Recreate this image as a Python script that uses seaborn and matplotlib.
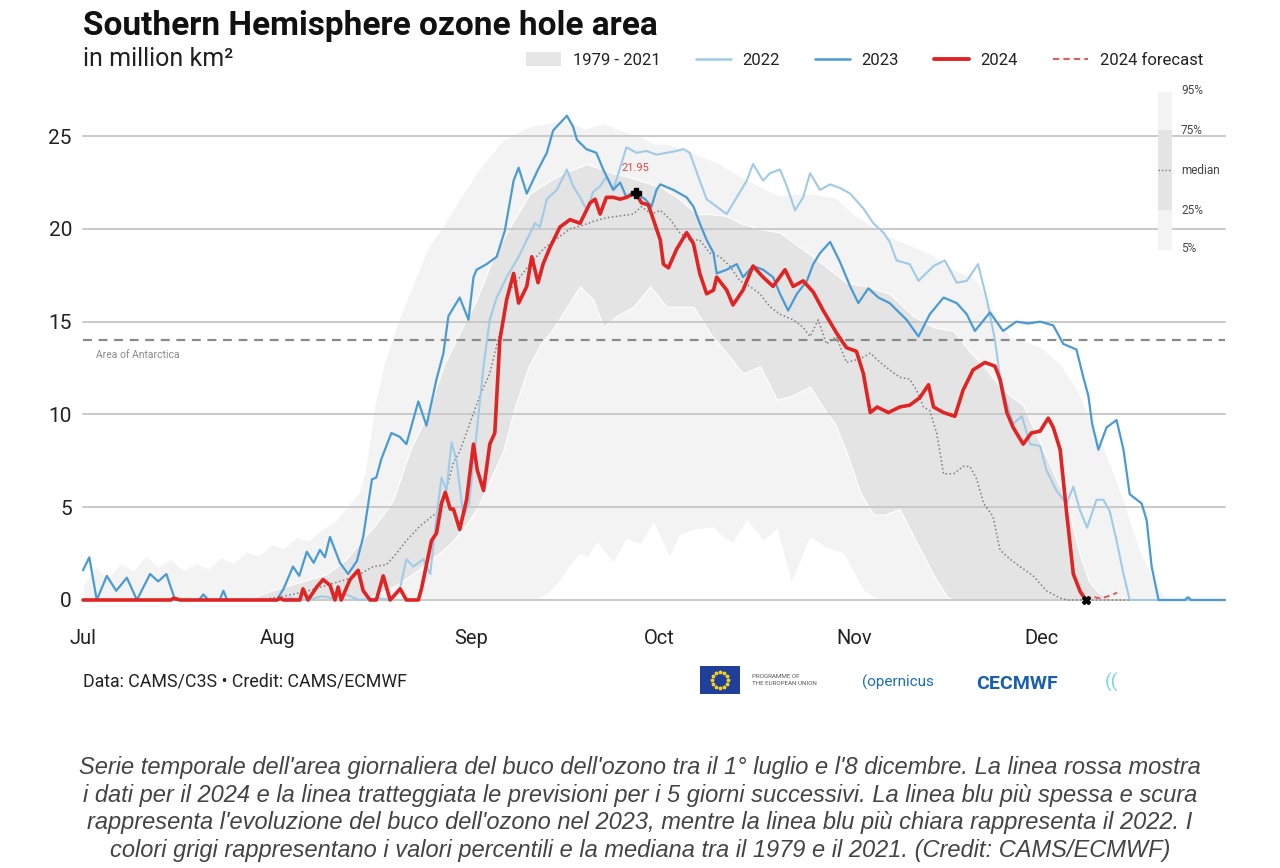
import numpy as np
import pandas as pd
import matplotlib
matplotlib.use("Agg")
import matplotlib.pyplot as plt
import matplotlib.dates as mdates
from matplotlib.patches import Patch, Rectangle
from matplotlib.lines import Line2D
import seaborn as sns

# ---------------- data (day offset from 1 July, value in million km2) ----------------
y2023_days = [0, 1, 2.2, 3.8, 5.3, 7, 8.6, 10.7, 12, 13.3, 14.7, 18.5, 19.2, 20, 21.8, 22.4, 23, 30.9, 32,
              33.5, 34.5, 35.7, 36.8, 37.8, 38.6, 39.4, 41.0, 42.3, 43.7, 44.7, 46.1, 46.8, 47.6, 49.2, 50.5,
              51.6, 53.5, 54.8, 56.4, 57.5, 58.3, 60.1, 61.5, 62.3, 62.8, 64.4, 66.0, 67.3, 68.7, 69.5, 70.8,
              72.6, 74.0, 75.0, 77.2, 78.2, 78.8, 80.3, 81.9, 83.0, 84.6, 85.7, 86.7, 87.8, 89.7, 90.7, 91.5,
              92.1, 94.2, 96.3, 97.4, 98.4, 99.5, 100.6, 101.1, 102.7, 104.3, 105.3, 106.9, 108.5, 110.1,
              111.2, 112.5, 113.9, 115.5, 116.5, 117.6, 119.2, 120.8, 122.4, 123.7, 125.3, 126.9, 128.7,
              131.4, 133.3, 135.1, 137.3, 139.4, 141.0, 142.3, 144.7, 146.8, 148.9, 150.8, 152.7, 154.8,
              156.4, 158.5, 159.6, 160.4, 161.0, 162.0, 163.3, 164.9, 166.0, 167.0, 168.9, 169.7, 170.5,
              171.6, 175.8, 176.3, 176.8, 182.2]
y2023_vals = [1.6, 2.3, 0.0, 1.3, 0.5, 1.2, 0.0, 1.4, 1.0, 1.4, 0.0, 0.0, 0.3, 0.0, 0.0, 0.5, 0.0, 0.0, 0.6,
              1.8, 1.3, 2.6, 2.0, 2.7, 2.3, 3.4, 2.0, 1.4, 2.1, 3.4, 6.5, 6.6, 7.6, 9.0, 8.8,
              8.4, 10.7, 9.4, 11.9, 13.3, 15.3, 16.3, 15.1, 17.4, 17.8, 18.1, 18.5, 19.9, 22.6, 23.3, 21.9,
              23.2, 24.1, 25.3, 26.1, 25.5, 24.8, 24.3, 24.1, 23.2, 22.1, 22.5, 21.7, 22.0, 21.6, 21.2, 22.1,
              22.4, 22.1, 21.7, 21.2, 20.3, 19.4, 18.7, 17.6, 17.8, 18.1, 17.4, 18.0, 17.8, 17.4,
              16.5, 15.6, 16.5, 17.2, 18.1, 18.7, 19.3, 18.2, 16.9, 16.0, 16.8, 16.3, 16.0,
              15.1, 14.2, 15.4, 16.3, 16.0, 15.4, 14.5, 15.5, 14.5, 15.0, 14.9, 15.0, 14.8,
              13.8, 13.5, 12.0, 11.0, 9.5, 8.1, 9.3, 9.7, 8.1, 5.7, 5.2, 4.3, 1.8,
              0.0, 0.0, 0.15, 0.0, 0.0]

y2022_days = [0, 30, 33, 36, 38, 40, 42, 44, 47, 49, 50.5, 51.6, 52.7, 54.3, 55.4, 56.4, 57.2, 58.0, 58.8,
              59.6, 60.7, 61.6, 62.8, 63.9, 64.9, 66.0, 67.6, 69.5, 70.8, 72.1, 72.9, 74.0, 75.6, 77.2, 78.2,
              79.3, 80.4, 81.4, 82.5, 83.5, 84.6, 85.7, 86.7, 88.3, 89.9, 91.5, 93.1, 94.7, 95.8, 96.8, 98.4,
              99.5, 101.1, 102.7, 104.3, 105.9, 106.9, 108.5, 109.6, 111.2, 112.3, 113.6, 114.9, 116.0, 117.6,
              119.2, 120.8, 122.4, 124.5, 126.1, 127.7, 128.7, 129.8, 131.9, 133.3, 135.7, 137.5, 139.4,
              141.0, 142.8, 144.2, 145.5, 146.3, 147.4, 148.4, 149.8, 151.1, 152.7, 153.7, 155.3, 156.9,
              158.0, 159.1, 160.2, 161.7, 162.8, 163.8, 164.9, 166.0, 167.0, 182.2]
y2022_vals = [0.0, 0.0, 0.1, 0.0, 0.2, 0.1, 0.3, 0.0, 0.1, 0.0, 0.5, 2.2, 1.8, 2.2, 1.4, 4.5, 6.6, 5.9, 8.5,
              7.5, 4.5, 5.2, 9.0, 12.6, 15.1, 16.3, 17.4, 18.5, 19.4, 20.3, 20.1, 21.6, 22.1, 23.2, 22.3,
              21.7, 21.0, 22.0, 22.3, 22.8, 22.1, 23.3, 24.4, 24.1, 24.2, 24.0, 24.1, 24.2, 24.3, 24.1, 22.6,
              21.6, 21.2, 20.8, 21.7, 22.6, 23.5, 22.6, 23.0, 23.2, 22.3, 21.0, 21.7, 23.0, 22.1,
              22.4, 22.2, 21.9, 21.1, 20.3, 19.8, 19.3, 18.3, 18.1, 17.2, 18.0, 18.3, 17.1,
              17.2, 18.1, 16.2, 14.0, 12.0, 10.6, 9.5, 9.9, 8.4, 8.3, 7.0, 5.9, 5.2,
              6.1, 4.8, 3.9, 5.4, 5.4, 4.8, 3.2, 1.4, 0.0, 0.0]

y2024_days = [0, 14, 14.5, 15.5, 31, 31.4, 32, 34.6, 35.1, 35.9, 37.3, 38.3, 39.4, 40.2, 40.7, 41.2, 42.6,
              43.9, 44.7, 45.8, 46.8, 47.9, 49.0, 50.6, 51.6, 53.5, 54.0, 54.8, 55.6, 56.4, 57.2, 57.8, 58.6,
              59.1, 60.1, 61.2, 62.3, 62.9, 63.9, 64.9, 65.7, 66.5, 67.6, 68.7, 69.5, 70.8, 71.6, 72.6, 73.4,
              74.5, 76.1, 77.7, 79.3, 80.9, 81.7, 82.5, 83.5, 84.6, 85.7, 86.7, 88.2, 89.1, 90.2, 91.0, 92.1,
              92.6, 93.4, 94.7, 96.3, 97.4, 98.4, 99.5, 100.6, 101.1, 102.7, 103.7, 105.3, 106.9, 108.5,
              110.1, 112.0, 113.3, 114.9, 116.5, 118.1, 120.2, 121.8, 123.4, 124.5, 125.6, 126.7, 128.5,
              130.3, 131.9, 133.5, 134.9, 135.7, 137.3, 139.1, 140.4, 142.0, 143.9, 145.5, 146.3, 147.4,
              148.4, 150.0, 151.3, 152.7, 154.0, 154.8, 155.9, 156.9, 158.0, 159.1, 160.0]
y2024_vals = [0.0, 0.0, 0.1, 0.0, 0.0, 0.1, 0.0, 0.0, 0.6, 0.0, 0.7, 1.1, 0.8, 0.0, 0.7, 0.0, 1.1,
              1.6, 0.5, 0.0, 0.0, 1.3, 0.0, 0.6, 0.0, 0.0, 0.6, 1.9, 3.2, 3.6, 5.2, 5.8, 4.9,
              4.9, 3.8, 5.4, 8.4, 7.0, 5.9, 8.4, 9.0, 14.0, 16.2, 17.6, 16.0, 16.9, 18.5, 17.1, 18.1,
              19.0, 20.1, 20.5, 20.3, 21.4, 21.6, 20.8, 21.7, 21.7, 21.6, 21.7, 21.95, 21.4, 21.3, 20.5, 19.4,
              18.1, 17.9, 18.9, 19.8, 19.2, 17.6, 16.5, 16.7, 17.4, 16.7, 15.9, 16.7, 18.0, 17.4,
              16.9, 17.8, 16.9, 17.2, 16.6, 15.6, 14.4, 13.6, 13.4, 12.2, 10.1, 10.4, 10.1,
              10.4, 10.5, 10.9, 11.6, 10.4, 10.1, 9.9, 11.3, 12.4, 12.8, 12.6, 11.9, 10.1,
              9.3, 8.4, 9.0, 9.1, 9.8, 9.3, 8.1, 4.8, 1.4, 0.45, 0.0]

forecast_days = [160, 161, 162, 163, 164, 165]
forecast_vals = [0.0, 0.2, 0.1, 0.15, 0.25, 0.4]

median_days = [0, 28, 32, 36, 39.9, 42, 44.2, 46.3, 48.4, 49.5, 51.6, 53.8, 56.4, 58, 59.1, 60.1, 61.7, 63.3,
               64.9, 66.5, 68.1, 69.7, 71.3, 73.4, 76.1, 77.7, 79.8, 81.4, 83.5, 85.7, 87.8, 89.1, 90.7,
               92.1, 93.7, 95.2, 96.8, 98.4, 100.0, 101.6, 103.2, 104.8, 106.4, 108.0, 109.6, 111.2, 113.3,
               114.9, 116.0, 117.3, 118.6, 120.2, 121.8, 124.0, 125.6, 127.2, 128.7, 130.3, 131.9, 133.0,
               134.1, 135.1, 136.2, 137.3, 138.9, 140.4, 141.5, 142.6, 143.7, 145.2, 146.3, 147.9, 149.5,
               151.6, 153.7, 155.9, 157, 182.2]
median_vals = [0.0, 0.0, 0.2, 0.5, 0.9, 1.1, 1.4, 1.8, 1.9, 2.3, 3.2, 4.0, 4.7, 6.0, 7.4, 8.0, 9.5, 11.0,
               12.2, 14.4, 16.7, 17.4, 18.1, 18.9, 19.6, 20.0, 20.2, 20.4, 20.6, 20.7, 20.8, 21.2, 20.8,
               21.0, 20.5, 19.8, 19.4, 19.4, 18.7, 18.5, 18.0, 17.2, 16.9, 16.5, 15.8, 15.4, 15.1,
               14.7, 14.2, 15.1, 13.8, 14.2, 12.8, 13.0, 13.3, 12.8, 12.4, 12.0, 11.9, 11.3,
               10.4, 10.2, 9.0, 6.8, 6.8, 7.2, 7.2, 6.5, 5.2, 4.5, 2.7, 2.2, 1.8,
               1.3, 0.5, 0.1, 0.0, 0.0]

p95_days = [0, 2, 4, 6, 8, 10, 12, 14, 16, 18, 20, 22, 24, 26, 28, 30, 32, 34, 36, 38, 40, 42, 44, 45,
            46.5, 48, 50, 52, 55, 57.5, 60, 62.3, 65, 67, 71, 74, 77, 80, 83, 86, 89, 91, 93, 95, 98,
            101, 104, 108, 111, 114, 116.5, 120, 123, 127, 130, 135, 139, 142, 144, 146, 148, 150, 153, 156,
            159, 161, 163, 166, 168.6, 171.4, 173, 175, 176.3, 177.5, 182.2]
p95_vals = [0.8, 1.8, 1.2, 2.0, 1.6, 2.4, 1.8, 2.2, 1.6, 2.0, 1.7, 2.3, 2.0, 2.6, 2.4, 3.0, 2.8, 3.4, 3.2,
            3.8, 4.2, 5.0, 5.8, 7.0, 10.5, 12.8, 14.8, 16.5, 19.0, 20.2, 21.6, 22.8, 24.0, 24.8, 25.5,
            25.7, 25.9, 25.4, 25.7, 25.3, 25.0, 24.6, 24.6, 24.4, 24.0, 23.6, 23.0, 22.3, 21.8, 21.9, 21.9,
            21.7, 20.8, 19.9, 19.4, 18.7, 17.8, 17.4, 16.5, 15.0, 14.2, 14.0, 13.6, 12.7, 11.1, 9.5, 8.1,
            5.4, 2.7, 0.7, 0.0, 0.1, 0.3, 0.0, 0.0]

p75_days = [0, 26, 30, 34, 38.9, 42, 44.2, 47, 49.5, 52.2, 54.8, 57.5, 60.1, 62.8, 65.5, 68.1, 71.3, 74,
            76.6, 80.4, 84.6, 87, 89.9, 92.5, 95.2, 97.9, 100, 102.7, 105, 108, 111.2, 114.4, 116.5, 119.2,
            121.8, 125, 128.7, 132.5, 135.7, 138.9, 141.2, 144.2, 146.3, 148, 150, 152, 154, 156, 157.5,
            159, 160.5, 162, 164, 166, 182.2]
p75_vals = [0.0, 0.0, 0.5, 0.9, 1.4, 2.2, 3.1, 4.2, 5.4, 8.1, 9.9, 12.6, 14.4, 16.2, 18.5, 20.1, 21.9, 22.5,
            23.0, 23.5, 23.0, 22.8, 22.5, 22.2, 21.6, 20.8, 20.8, 20.7, 20.3, 20.0, 19.8, 19.0, 18.5, 17.8,
            17.1, 16.9, 16.5, 15.3, 14.7, 14.5, 13.5, 12.4, 11.5, 11.0, 10.5, 9.0, 7.5, 6.0, 4.5,
            2.5, 1.0, 0.4, 0.1, 0.0, 0.0]

p25_days = [0, 44, 47, 50, 53, 56, 58.5, 61, 63, 65, 67, 69, 71, 73, 75, 77.2, 79.3, 81.4, 83, 85.1, 87.8,
            90.5, 93.1, 97.4, 100, 102.7, 105.3, 108, 110.7, 113, 116, 118.6, 120, 122, 124, 126.1, 128,
            130.3, 133, 135.6, 137.8, 139, 182.2]
p25_vals = [0.0, 0.0, 0.3, 0.8, 1.5, 2.3, 3.0, 4.0, 5.0, 6.5, 8.0, 10.5, 12.5, 13.8, 14.6, 15.8, 16.9, 16.2,
            14.7, 15.3, 15.8, 16.9, 15.8, 15.8, 14.4, 13.3, 12.2, 12.6, 10.8, 11.0, 11.5, 10.1, 9.5, 7.8,
            5.8, 4.6, 4.6, 4.9, 3.1, 1.4, 0.2, 0.0, 0.0]

p5_days = [0, 72, 74, 76, 77.5, 79.3, 80.5, 82, 84.6, 86.7, 89, 91, 93.6, 95.2, 97.4, 100.6, 102, 103.7,
           105.9, 108.5, 110.7, 113, 116, 118.1, 121.3, 124.5, 127, 182.2]
p5_vals = [0.0, 0.0, 0.3, 1.0, 1.8, 2.5, 2.3, 3.1, 2.0, 3.3, 3.0, 4.2, 2.3, 3.5, 3.8, 3.9, 3.4, 3.1,
           4.3, 3.2, 3.8, 0.9, 3.4, 2.9, 2.5, 0.5, 0.0, 0.0]

antarctica_area = 14.0
peak_day, peak_val = 88.2, 21.95
ytick_vals = [0, 5, 10, 15, 20, 25]

# ---------------- helpers ----------------
base = pd.Timestamp("2024-07-01")


def to_dates(days):
    return base + pd.to_timedelta(np.asarray(days, dtype=float), unit="D")


def frame(days, vals):
    return pd.DataFrame({"date": to_dates(days), "value": vals})


# common grid for the percentile bands
grid_days = np.union1d(np.union1d(np.union1d(p95_days, p75_days), np.union1d(p25_days, p5_days)), [182.2])
g95 = np.interp(grid_days, p95_days, p95_vals)
g75 = np.minimum(np.interp(grid_days, p75_days, p75_vals), g95)
g25 = np.minimum(np.interp(grid_days, p25_days, p25_vals), g75)
g5 = np.minimum(np.interp(grid_days, p5_days, p5_vals), g25)
gdates = to_dates(grid_days)

# ---------------- figure ----------------
sns.set_theme(style="white")
plt.rcParams["font.family"] = ["Roboto", "DejaVu Sans"]

W, H = 1280, 868
fig = plt.figure(figsize=(W / 100, H / 100), dpi=100)
ax_left, ax_right = 83, 1225
ax_bottom_px, ax_top_px = 603.7, 99.0
ax = fig.add_axes([ax_left / W, 1 - ax_bottom_px / H, (ax_right - ax_left) / W, (ax_bottom_px - ax_top_px) / H])

light_band = "#f3f3f3"
dark_band = "#e4e4e4"
ax.fill_between(gdates, g5, g95, facecolor=light_band, edgecolor="white", linewidth=0.8, zorder=1)
ax.fill_between(gdates, g25, g75, facecolor=dark_band, edgecolor="white", linewidth=0.8, zorder=1.1)

# gridlines
for v in ytick_vals:
    ax.axhline(v, color="#c9c9c9", lw=1.4, zorder=1.5)

# Antarctica area
ax.axhline(antarctica_area, color="#8a8a8a", lw=1.6, ls=(0, (4, 3)), zorder=1.6)
ax.text(to_dates([2])[0], antarctica_area - 0.55, "Area of Antarctica", fontsize=7.5, color="#8a8a8a",
        va="top", ha="left", zorder=3)

# lines via seaborn
sns.lineplot(data=frame(median_days, median_vals), x="date", y="value", ax=ax, color="#7d7d7d",
             lw=1.1, linestyle=(0, (1, 1.6)), sort=False, estimator=None, zorder=2)
sns.lineplot(data=frame(y2022_days, y2022_vals), x="date", y="value", ax=ax, color="#9fcbe7",
             lw=1.5, sort=False, estimator=None, zorder=3)
sns.lineplot(data=frame(y2023_days, y2023_vals), x="date", y="value", ax=ax, color="#4a9bd3",
             lw=1.6, sort=False, estimator=None, zorder=4)
sns.lineplot(data=frame(forecast_days, forecast_vals), x="date", y="value", ax=ax, color="#ea5a5a",
             lw=1.4, linestyle=(0, (3, 2)), sort=False, estimator=None, zorder=5)
sns.lineplot(data=frame(y2024_days, y2024_vals), x="date", y="value", ax=ax, color="#e02424",
             lw=2.6, sort=False, estimator=None, zorder=6)
for ln in ax.lines:
    ln.set_clip_on(False)

# markers
pk = to_dates([peak_day])[0]
ax.plot([pk], [peak_val], marker="P", color="black", ms=6.5, zorder=8, clip_on=False)
ax.text(pk, peak_val + 1.35, f"{peak_val:.2f}", color="#e04545", fontsize=8, ha="center", va="center", zorder=8)
ax.plot([to_dates([y2024_days[-1]])[0]], [0], marker="X", color="black", ms=5.5, zorder=8, clip_on=False)

# axes styling
ax.set_xlim(base, base + pd.Timedelta(days=182.2))
ax.set_ylim(-0.2, 27)
ax.set_yticks(ytick_vals)
ax.set_yticklabels([str(v) for v in ytick_vals])
ax.xaxis.set_major_locator(mdates.MonthLocator())
ax.xaxis.set_major_formatter(mdates.DateFormatter("%b"))
ax.tick_params(axis="y", length=0, pad=8, labelsize=15, labelcolor="#222222")
ax.tick_params(axis="x", length=0, pad=18, labelsize=14.5, labelcolor="#222222")
ax.set_xlabel("")
ax.set_ylabel("")
for s in ax.spines.values():
    s.set_visible(False)
ax.grid(False)
ax.set_facecolor("white")

# ---------------- titles ----------------
fig.text(83 / W, 1 - 10 / H, "Southern Hemisphere ozone hole area", fontsize=24, fontweight="bold",
         color="#111111", ha="left", va="top")
fig.text(83 / W, 1 - 47 / H, "in million km²", fontsize=18, color="#222222", ha="left", va="top")

# ---------------- top legend ----------------
handles = [
    Patch(facecolor="#e6e6e6", edgecolor="none"),
    Line2D([], [], color="#9fcbe7", lw=1.8),
    Line2D([], [], color="#4a9bd3", lw=1.8),
    Line2D([], [], color="#e02424", lw=2.8),
    Line2D([], [], color="#ea5a5a", lw=1.5, ls=(0, (3, 2))),
]
labels = ["1979 - 2021", "2022", "2023", "2024", "2024 forecast"]
fig.legend(handles, labels, loc="center right", bbox_to_anchor=(1218 / W, 1 - 60 / H), ncol=5,
           frameon=False, fontsize=12, handlelength=2.1, handleheight=0.9, columnspacing=2.1,
           handletextpad=0.7, labelcolor="#222222")

# ---------------- percentile key ----------------
kx, kw = 1158, 14
for (y0, y1, c) in [(92, 130, light_band), (130, 210, dark_band), (210, 250, light_band)]:
    fig.patches.append(Rectangle((kx / W, 1 - y1 / H), kw / W, (y1 - y0) / H, transform=fig.transFigure,
                                 facecolor=c, edgecolor="none", zorder=5))
fig.lines.append(Line2D([kx / W, (kx + kw) / W], [1 - 170 / H, 1 - 170 / H], transform=fig.transFigure,
                        color="#777777", lw=1.0, ls=(0, (1, 1.5)), zorder=6))
for lab, yy in [("95%", 90), ("75%", 130), ("median", 170), ("25%", 210), ("5%", 249)]:
    fig.text(1181 / W, 1 - yy / H, lab, fontsize=8.5, color="#444444", ha="left", va="center", zorder=6)

# ---------------- footer ----------------
fig.text(83 / W, 1 - 681 / H, "Data: CAMS/C3S • Credit: CAMS/ECMWF", fontsize=12.8, color="#222222",
         ha="left", va="center")
# logo approximations
fig.patches.append(Rectangle((700 / W, 1 - 694 / H), 40 / W, 28 / H, transform=fig.transFigure,
                             facecolor="#1f3f99", edgecolor="none"))
ang = np.linspace(0, 2 * np.pi, 12, endpoint=False)
fig.lines.append(Line2D((720 + 8 * np.cos(ang)) / W, 1 - (680 + 8 * np.sin(ang)) / H, transform=fig.transFigure,
                        ls="none", marker="*", ms=2.5, color="#f2d21a"))
fig.text(752 / W, 1 - 680 / H, "PROGRAMME OF\nTHE EUROPEAN UNION", fontsize=4.5, color="#555555",
         ha="left", va="center", linespacing=1.3)
fig.text(862 / W, 1 - 682 / H, "(opernicus", fontsize=11, color="#1b6fb5", ha="left", va="center")
fig.text(976 / W, 1 - 684 / H, "CECMWF", fontsize=14, fontweight="bold", color="#1b5fb3", ha="left", va="center")
fig.text(1105 / W, 1 - 682 / H, "((", fontsize=14, color="#7fd3e8", ha="left", va="center")

# ---------------- caption ----------------
caption = ("Serie temporale dell'area giornaliera del buco dell'ozono tra il 1° luglio e l'8 dicembre. La linea rossa mostra\n"
           "i dati per il 2024 e la linea tratteggiata le previsioni per i 5 giorni successivi. La linea blu più spessa e scura\n"
           "rappresenta l'evoluzione del buco dell'ozono nel 2023, mentre la linea blu più chiara rappresenta il 2022. I\n"
           "colori grigi rappresentano i valori percentili e la mediana tra il 1979 e il 2021. (Credit: CAMS/ECMWF)")
fig.text(640 / W, 1 - 809 / H, caption, fontsize=17, style="italic", color="#444444", ha="center", va="center",
         linespacing=1.27, family=["Liberation Sans", "DejaVu Sans"])

fig.savefig("out.png", dpi=100, facecolor="white")
